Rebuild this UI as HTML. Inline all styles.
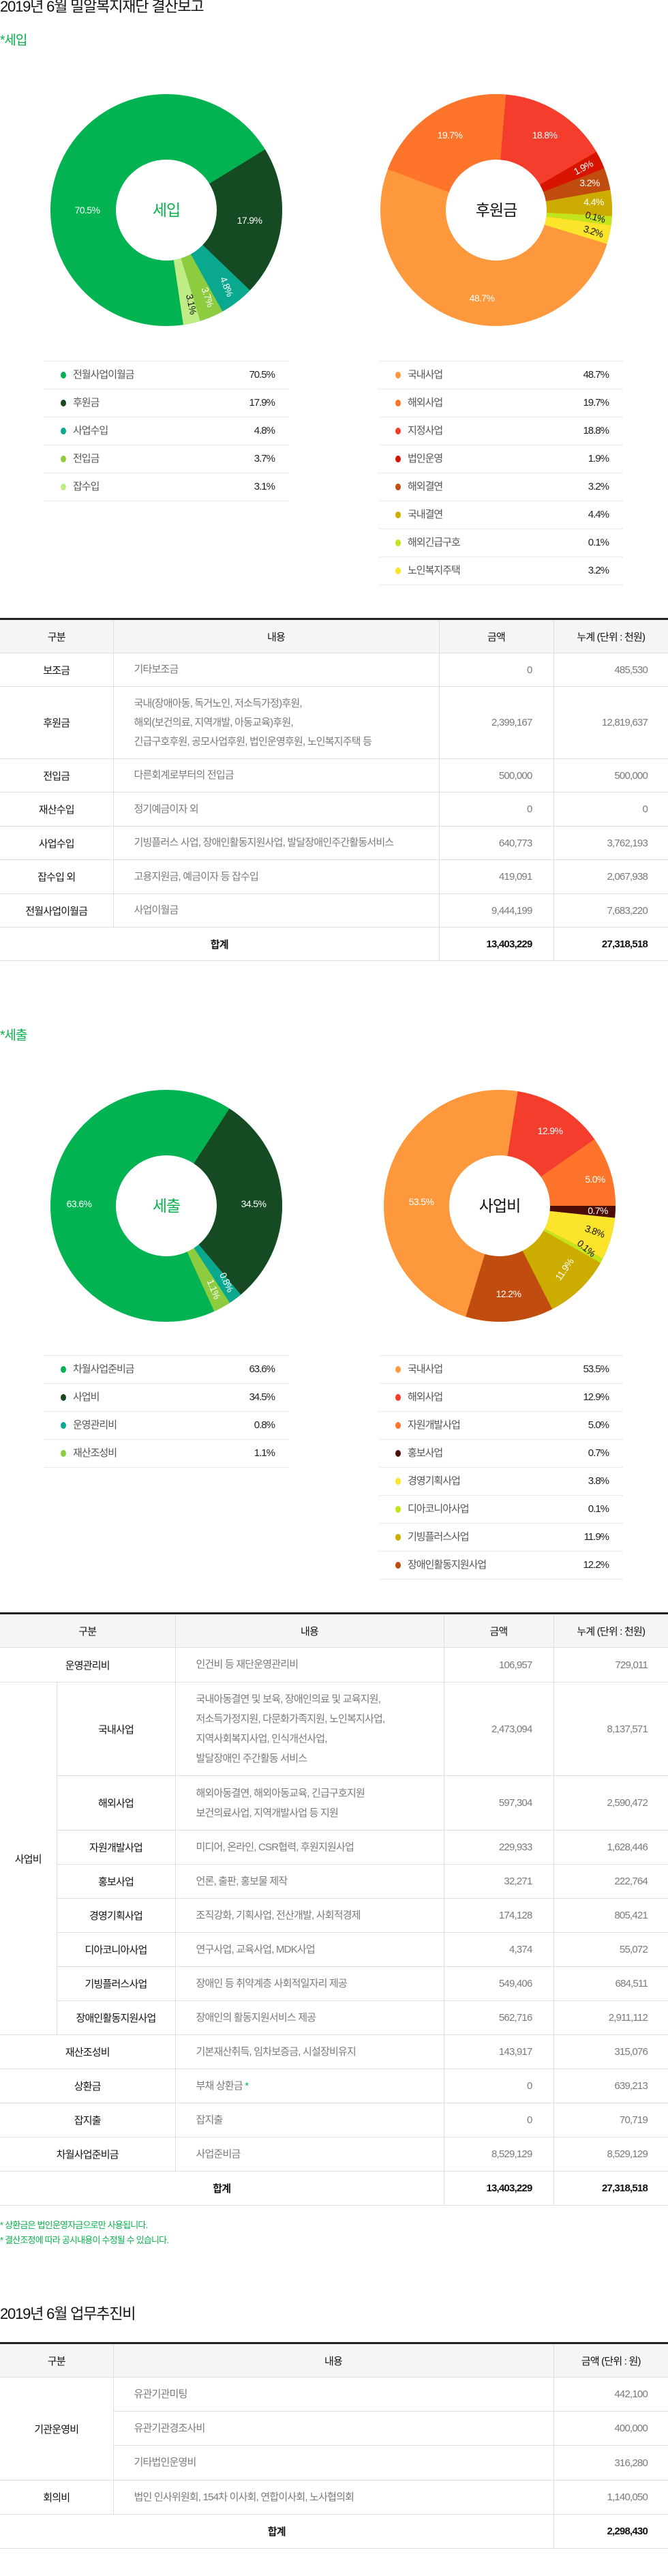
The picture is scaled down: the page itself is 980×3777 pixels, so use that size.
<!DOCTYPE html>
<html><head><meta charset="utf-8">
<style>
*{box-sizing:border-box;margin:0;padding:0}
body{width:980px;height:3777px;position:relative;background:#fff;font-family:"Liberation Sans","Noto Sans CJK KR",sans-serif;color:#222;overflow:hidden}
.abs{position:absolute}
.title{font-size:22px;letter-spacing:-1.2px;color:#111;line-height:26px}
.sub{font-size:19px;letter-spacing:-1px;color:#08b14b;line-height:22px}
.leg{position:absolute;border-bottom:1px dotted #d6d6d6}
.leg div{position:relative;height:41px;border-top:1px dotted #d6d6d6;font-size:15px;letter-spacing:-1px;color:#555;line-height:40px}
.leg i{position:absolute;left:24px;top:15px;width:8px;height:10px;border-radius:50%}
.leg span{position:absolute;left:42px}
.leg b{position:absolute;right:20px;font-weight:normal;color:#222;letter-spacing:-1px}
table{position:absolute;left:0;width:980px;border-collapse:collapse;table-layout:fixed;border-top:3px solid #222;font-size:15px;letter-spacing:-0.8px}
td,th{border:1px solid #dfdfdf;padding:0;vertical-align:middle}
tr>*:first-child{border-left:none}
tr>*:last-child{border-right:none}
th{background:#f4f5f7;font-weight:normal;color:#111;text-align:center}
td.c{text-align:center;color:#111}
td.t{text-align:left;padding-left:30px;color:#7a7a7a;line-height:28px}
td.n{text-align:right;padding-right:31px;color:#7a7a7a}
tr.sum td{color:#111;font-weight:bold}
.pl{font-size:14px;letter-spacing:-0.6px;fill:#fff}
.note{font-size:13px;color:#08b14b;letter-spacing:-0.8px;line-height:16px}
</style></head><body>

<div class="abs title" style="left:0;top:-3px">2019년 6월 밀알복지재단 결산보고</div>
<div class="abs sub" style="left:0;top:49px">*세입</div>
<div class="abs sub" style="left:0;top:1508px">*세출</div>

<svg class="abs" style="left:0;top:0" width="980" height="1960" xmlns="http://www.w3.org/2000/svg" font-family="Liberation Sans, Noto Sans CJK KR, sans-serif">
<g fill="none" stroke-width="96">
<circle cx="244" cy="308" r="122" stroke="#03b351"/>
<circle cx="244" cy="308" r="122" stroke="#164a22" stroke-dasharray="160.3 800" transform="rotate(-31.5 244 308)"/>
<circle cx="244" cy="308" r="122" stroke="#0aa98f" stroke-dasharray="36.6 800" transform="rotate(43.8 244 308)"/>
<circle cx="244" cy="308" r="122" stroke="#8ccc3e" stroke-dasharray="25.6 800" transform="rotate(61 244 308)"/>
<circle cx="244" cy="308" r="122" stroke="#bfec84" stroke-dasharray="18.3 800" transform="rotate(73 244 308)"/>
</g>
<text x="244" y="316" text-anchor="middle" font-size="23" fill="#08b14b" letter-spacing="-1">세입</text>
<text class="pl" x="128" y="313" text-anchor="middle">70.5%</text>
<text class="pl" x="366" y="328" text-anchor="middle">17.9%</text>
<text class="pl" x="328" y="422" text-anchor="middle" transform="rotate(68 328 422)">4.8%</text>
<text class="pl" x="300" y="437" text-anchor="middle" transform="rotate(72 300 437)">3.7%</text>
<text class="pl" x="276" y="447" text-anchor="middle" transform="rotate(78 276 447)" style="fill:#111">3.1%</text>

<g fill="none" stroke-width="96">
<circle cx="728" cy="308" r="122" stroke="#fe983c"/>
<circle cx="728" cy="308" r="122" stroke="#f53d2d" stroke-dasharray="117.3 800" transform="rotate(-85.3 728 308)"/>
<circle cx="728" cy="308" r="122" stroke="#d61400" stroke-dasharray="19.6 800" transform="rotate(-30.2 728 308)"/>
<circle cx="728" cy="308" r="122" stroke="#c04c0f" stroke-dasharray="23.4 800" transform="rotate(-21 728 308)"/>
<circle cx="728" cy="308" r="122" stroke="#cdac00" stroke-dasharray="27.7 800" transform="rotate(-10 728 308)"/>
<circle cx="728" cy="308" r="122" stroke="#c3e31a" stroke-dasharray="9.6 800" transform="rotate(3 728 308)"/>
<circle cx="728" cy="308" r="122" stroke="#fce42a" stroke-dasharray="20.2 800" transform="rotate(7.5 728 308)"/>
<circle cx="728" cy="308" r="122" stroke="#fd742a" stroke-dasharray="157.8 800" transform="rotate(200.6 728 308)"/>
</g>
<text x="728" y="316" text-anchor="middle" font-size="23" fill="#111" letter-spacing="-1">후원금</text>
<text class="pl" x="660" y="203" text-anchor="middle">19.7%</text>
<text class="pl" x="799" y="203" text-anchor="middle">18.8%</text>
<text class="pl" x="707" y="442" text-anchor="middle">48.7%</text>
<text class="pl" x="858" y="250" text-anchor="middle" transform="rotate(-28 858 250)">1.9%</text>
<text class="pl" x="865" y="273" text-anchor="middle">3.2%</text>
<text class="pl" x="871" y="301" text-anchor="middle">4.4%</text>
<text class="pl" x="872" y="323" text-anchor="middle" transform="rotate(15 872 323)" style="fill:#111">0.1%</text>
<text class="pl" x="869" y="344" text-anchor="middle" transform="rotate(18 869 344)" style="fill:#111">3.2%</text>

<g fill="none" stroke-width="96">
<circle cx="244" cy="1768" r="122" stroke="#03b351"/>
<circle cx="244" cy="1768" r="122" stroke="#164a22" stroke-dasharray="227.8 800" transform="rotate(-57 244 1768)"/>
<circle cx="244" cy="1768" r="122" stroke="#0aa98f" stroke-dasharray="14.5 800" transform="rotate(50 244 1768)"/>
<circle cx="244" cy="1768" r="122" stroke="#8ccc3e" stroke-dasharray="18.7 800" transform="rotate(56.8 244 1768)"/>
</g>
<text x="244" y="1776" text-anchor="middle" font-size="23" fill="#08b14b" letter-spacing="-1">세출</text>
<text class="pl" x="116" y="1770" text-anchor="middle">63.6%</text>
<text class="pl" x="372" y="1770" text-anchor="middle">34.5%</text>
<text class="pl" x="328" y="1882" text-anchor="middle" transform="rotate(65 328 1882)">0.8%</text>
<text class="pl" x="309" y="1892" text-anchor="middle" transform="rotate(68 309 1892)">1.1%</text>

<g fill="none" stroke-width="96">
<circle cx="733" cy="1768" r="122" stroke="#fe983c"/>
<circle cx="733" cy="1768" r="122" stroke="#f53d2d" stroke-dasharray="97.9 800" transform="rotate(-81 733 1768)"/>
<circle cx="733" cy="1768" r="122" stroke="#fd742a" stroke-dasharray="74.5 800" transform="rotate(-35 733 1768)"/>
<circle cx="733" cy="1768" r="122" stroke="#4b0d05" stroke-dasharray="12.8 800" transform="rotate(0 733 1768)"/>
<circle cx="733" cy="1768" r="122" stroke="#fce42a" stroke-dasharray="44.7 800" transform="rotate(6 733 1768)"/>
<circle cx="733" cy="1768" r="122" stroke="#c3e31a" stroke-dasharray="5.3 800" transform="rotate(27 733 1768)"/>
<circle cx="733" cy="1768" r="122" stroke="#cdac00" stroke-dasharray="71.3 800" transform="rotate(29.5 733 1768)"/>
<circle cx="733" cy="1768" r="122" stroke="#c04c0f" stroke-dasharray="93.7 800" transform="rotate(63 733 1768)"/>
</g>
<text x="733" y="1776" text-anchor="middle" font-size="23" fill="#111" letter-spacing="-1">사업비</text>
<text class="pl" x="807" y="1663" text-anchor="middle">12.9%</text>
<text class="pl" x="873" y="1734" text-anchor="middle">5.0%</text>
<text class="pl" x="877" y="1780" text-anchor="middle">0.7%</text>
<text class="pl" x="871" y="1810" text-anchor="middle" transform="rotate(20 871 1810)" style="fill:#111">3.8%</text>
<text class="pl" x="857" y="1834" text-anchor="middle" transform="rotate(40 857 1834)" style="fill:#111">0.1%</text>
<text class="pl" x="832" y="1864" text-anchor="middle" transform="rotate(-55 832 1864)">11.9%</text>
<text class="pl" x="746" y="1902" text-anchor="middle">12.2%</text>
<text class="pl" x="618" y="1767" text-anchor="middle">53.5%</text>
</svg>

<div class="leg" style="left:65px;top:529px;width:358px">
<div><i style="background:#03b351"></i><span>전월사업이월금</span><b>70.5%</b></div>
<div><i style="background:#164a22"></i><span>후원금</span><b>17.9%</b></div>
<div><i style="background:#0aa98f"></i><span>사업수입</span><b>4.8%</b></div>
<div><i style="background:#8ccc3e"></i><span>전입금</span><b>3.7%</b></div>
<div><i style="background:#bfec84"></i><span>잡수입</span><b>3.1%</b></div>
</div>
<div class="leg" style="left:556px;top:529px;width:357px">
<div><i style="background:#fe983c"></i><span>국내사업</span><b>48.7%</b></div>
<div><i style="background:#fd742a"></i><span>해외사업</span><b>19.7%</b></div>
<div><i style="background:#f53d2d"></i><span>지정사업</span><b>18.8%</b></div>
<div><i style="background:#d61400"></i><span>법인운영</span><b>1.9%</b></div>
<div><i style="background:#c04c0f"></i><span>해외결연</span><b>3.2%</b></div>
<div><i style="background:#cdac00"></i><span>국내결연</span><b>4.4%</b></div>
<div><i style="background:#c3e31a"></i><span>해외긴급구호</span><b>0.1%</b></div>
<div><i style="background:#fce42a"></i><span>노인복지주택</span><b>3.2%</b></div>
</div>

<div class="leg" style="left:65px;top:1987px;width:358px">
<div><i style="background:#03b351"></i><span>차월사업준비금</span><b>63.6%</b></div>
<div><i style="background:#164a22"></i><span>사업비</span><b>34.5%</b></div>
<div><i style="background:#0aa98f"></i><span>운영관리비</span><b>0.8%</b></div>
<div><i style="background:#8ccc3e"></i><span>재산조성비</span><b>1.1%</b></div>
</div>
<div class="leg" style="left:556px;top:1987px;width:357px">
<div><i style="background:#fe983c"></i><span>국내사업</span><b>53.5%</b></div>
<div><i style="background:#f53d2d"></i><span>해외사업</span><b>12.9%</b></div>
<div><i style="background:#fd742a"></i><span>자원개발사업</span><b>5.0%</b></div>
<div><i style="background:#4b0d05"></i><span>홍보사업</span><b>0.7%</b></div>
<div><i style="background:#fce42a"></i><span>경영기획사업</span><b>3.8%</b></div>
<div><i style="background:#c3e31a"></i><span>디아코니아사업</span><b>0.1%</b></div>
<div><i style="background:#cdac00"></i><span>기빙플러스사업</span><b>11.9%</b></div>
<div><i style="background:#c04c0f"></i><span>장애인활동지원사업</span><b>12.2%</b></div>
</div>

<table style="top:906px">
<colgroup><col style="width:166px"><col style="width:478px"><col style="width:168px"><col style="width:168px"></colgroup>
<tr style="height:50px"><th>구분</th><th>내용</th><th>금액</th><th>누계 (단위 : 천원)</th></tr>
<tr style="height:49px"><td class="c">보조금</td><td class="t">기타보조금</td><td class="n">0</td><td class="n" style="padding-right:30px">485,530</td></tr>
<tr style="height:106px"><td class="c">후원금</td><td class="t">국내(장애아동, 독거노인, 저소득가정)후원,<br>해외(보건의료, 지역개발, 아동교육)후원,<br>긴급구호후원, 공모사업후원, 법인운영후원, 노인복지주택 등</td><td class="n">2,399,167</td><td class="n" style="padding-right:30px">12,819,637</td></tr>
<tr style="height:49px"><td class="c">전입금</td><td class="t">다른회계로부터의 전입금</td><td class="n">500,000</td><td class="n" style="padding-right:30px">500,000</td></tr>
<tr style="height:50px"><td class="c">재산수입</td><td class="t">정기예금이자 외</td><td class="n">0</td><td class="n" style="padding-right:30px">0</td></tr>
<tr style="height:49px"><td class="c">사업수입</td><td class="t">기빙플러스 사업, 장애인활동지원사업, 발달장애인주간활동서비스</td><td class="n">640,773</td><td class="n" style="padding-right:30px">3,762,193</td></tr>
<tr style="height:50px"><td class="c">잡수입 외</td><td class="t">고용지원금, 예금이자 등 잡수입</td><td class="n">419,091</td><td class="n" style="padding-right:30px">2,067,938</td></tr>
<tr style="height:49px"><td class="c">전월사업이월금</td><td class="t">사업이월금</td><td class="n">9,444,199</td><td class="n" style="padding-right:30px">7,683,220</td></tr>
<tr class="sum" style="height:49px"><td class="c" colspan="2">합계</td><td class="n">13,403,229</td><td class="n" style="padding-right:30px">27,318,518</td></tr>
</table>

<table style="top:2364px">
<colgroup><col style="width:83px"><col style="width:174px"><col style="width:394px"><col style="width:161px"><col style="width:168px"></colgroup>
<tr style="height:50px"><th colspan="2">구분</th><th>내용</th><th>금액</th><th>누계 (단위 : 천원)</th></tr>
<tr style="height:51px"><td class="c" colspan="2">운영관리비</td><td class="t">인건비 등 재단운영관리비</td><td class="n">106,957</td><td class="n" style="padding-right:30px">729,011</td></tr>
<tr style="height:137px"><td class="c" rowspan="8">사업비</td><td class="c">국내사업</td><td class="t" style="line-height:29px">국내아동결연 및 보육, 장애인의료 및 교육지원,<br>저소득가정지원, 다문화가족지원, 노인복지사업,<br>지역사회복지사업, 인식개선사업,<br>발달장애인 주간활동 서비스</td><td class="n">2,473,094</td><td class="n" style="padding-right:30px">8,137,571</td></tr>
<tr style="height:80px"><td class="c">해외사업</td><td class="t" style="line-height:29px">해외아동결연, 해외아동교육, 긴급구호지원<br>보건의료사업, 지역개발사업 등 지원</td><td class="n">597,304</td><td class="n" style="padding-right:30px">2,590,472</td></tr>
<tr style="height:50px"><td class="c">자원개발사업</td><td class="t">미디어, 온라인, CSR협력, 후원지원사업</td><td class="n">229,933</td><td class="n" style="padding-right:30px">1,628,446</td></tr>
<tr style="height:50px"><td class="c">홍보사업</td><td class="t">언론, 출판, 홍보물 제작</td><td class="n">32,271</td><td class="n" style="padding-right:30px">222,764</td></tr>
<tr style="height:50px"><td class="c">경영기획사업</td><td class="t">조직강화, 기획사업, 전산개발, 사회적경제</td><td class="n">174,128</td><td class="n" style="padding-right:30px">805,421</td></tr>
<tr style="height:50px"><td class="c">디아코니아사업</td><td class="t">연구사업, 교육사업, MDK사업</td><td class="n">4,374</td><td class="n" style="padding-right:30px">55,072</td></tr>
<tr style="height:50px"><td class="c">기빙플러스사업</td><td class="t">장애인 등 취약계층 사회적일자리 제공</td><td class="n">549,406</td><td class="n" style="padding-right:30px">684,511</td></tr>
<tr style="height:50px"><td class="c">장애인활동지원사업</td><td class="t">장애인의 활동지원서비스 제공</td><td class="n">562,716</td><td class="n" style="padding-right:30px">2,911,112</td></tr>
<tr style="height:50px"><td class="c" colspan="2">재산조성비</td><td class="t">기본재산취득, 임차보증금, 시설장비유지</td><td class="n">143,917</td><td class="n" style="padding-right:30px">315,076</td></tr>
<tr style="height:50px"><td class="c" colspan="2">상환금</td><td class="t">부채 상환금 <span style="color:#08b14b">*</span></td><td class="n">0</td><td class="n" style="padding-right:30px">639,213</td></tr>
<tr style="height:50px"><td class="c" colspan="2">잡지출</td><td class="t">잡지출</td><td class="n">0</td><td class="n" style="padding-right:30px">70,719</td></tr>
<tr style="height:50px"><td class="c" colspan="2">차월사업준비금</td><td class="t">사업준비금</td><td class="n">8,529,129</td><td class="n" style="padding-right:30px">8,529,129</td></tr>
<tr class="sum" style="height:50px"><td class="c" colspan="3">합계</td><td class="n">13,403,229</td><td class="n" style="padding-right:30px">27,318,518</td></tr>
</table>

<div class="abs note" style="left:0;top:3255px">* 상환금은 법인운영자금으로만 사용됩니다.</div>
<div class="abs note" style="left:0;top:3277px">* 결산조정에 따라 공시내용이 수정될 수 있습니다.</div>

<div class="abs title" style="left:0;top:3380px">2019년 6월 업무추진비</div>

<table style="top:3434px">
<colgroup><col style="width:166px"><col style="width:646px"><col style="width:168px"></colgroup>
<tr style="height:50px"><th>구분</th><th>내용</th><th>금액 (단위 : 원)</th></tr>
<tr style="height:50px"><td class="c" rowspan="3">기관운영비</td><td class="t">유관기관미팅</td><td class="n" style="padding-right:30px">442,100</td></tr>
<tr style="height:50px"><td class="t">유관기관경조사비</td><td class="n" style="padding-right:30px">400,000</td></tr>
<tr style="height:51px"><td class="t">기타법인운영비</td><td class="n" style="padding-right:30px">316,280</td></tr>
<tr style="height:50px"><td class="c">회의비</td><td class="t">법인 인사위원회, 154차 이사회, 연합이사회, 노사협의회</td><td class="n" style="padding-right:30px">1,140,050</td></tr>
<tr class="sum" style="height:50px"><td class="c" colspan="2">합계</td><td class="n" style="padding-right:30px">2,298,430</td></tr>
</table>

</body></html>
